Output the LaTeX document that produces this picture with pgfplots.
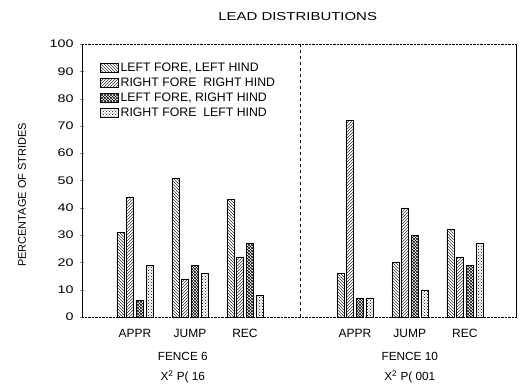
\documentclass[border=0pt]{standalone}
\usepackage{fontspec}
\setmainfont{Liberation Sans}
\newfontfamily\wide{Liberation Sans}[FakeStretch=1.3]
\usepackage{pgfplots}
\pgfplotsset{compat=1.18}
\usetikzlibrary{patterns}
\begin{document}
\begin{tikzpicture}
\begin{axis}[
  scale only axis, width=435pt, height=273pt,
  xmin=0.036, xmax=7.95, ymin=0, ymax=100,
  axis line style={draw=none},
  ytick={0,10,...,100},
  ytick pos=left,
  tick align=center, major tick length=4pt,
  xtick={1,2,3,5,6,7},
  xticklabels={APPR,JUMP,REC,APPR,JUMP,REC},
  x tick style={draw=none},
  xticklabel style={yshift=-5pt, font=\fontsize{12}{14}\selectfont},
  yticklabel style={xshift=-3pt, font=\wide\fontsize{11}{13}\selectfont},
  /pgf/number format/assume math mode=true,
  clip=false,
  ybar, bar width=0.127,
  legend image code/.code={\draw[#1,bar shift=0pt] (0pt,-4.5pt) rectangle (18pt,4.5pt);},
  legend cell align=left,
  legend style={at={(axis cs:0.364,93.8)}, anchor=north west, draw=none, fill=none,
    font=\fontsize{12.3}{14}\selectfont, inner sep=0pt, row sep=0.8pt,
    nodes={inner sep=2pt}},
]
\addplot[draw=black, pattern=north west lines, bar shift=-0.265] coordinates {(1,31) (2,51) (3,43) (5,16) (6,20) (7,32)};
\addlegendentry{LEFT FORE, LEFT HIND}
\addplot[draw=black, pattern=north east lines, bar shift=-0.088] coordinates {(1,44) (2,14) (3,22) (5,72) (6,40) (7,22)};
\addlegendentry{RIGHT FORE\ \ RIGHT HIND}
\addplot[draw=black, pattern=crosshatch, bar shift=0.088] coordinates {(1,6) (2,19) (3,27) (5,7) (6,30) (7,19)};
\addlegendentry{LEFT FORE, RIGHT HIND}
\addplot[draw=black, pattern=crosshatch dots, bar shift=0.265] coordinates {(1,19) (2,16) (3,8) (5,7) (6,10) (7,27)};
\addlegendentry{RIGHT FORE\ \ LEFT HIND}
% frame
\draw[line width=0.8pt] (rel axis cs:0,0) -- (rel axis cs:0,1);
\draw[densely dotted] (rel axis cs:0,1) -- (rel axis cs:1,1);
\draw[densely dotted] (rel axis cs:0,0) -- (rel axis cs:1,0);
\draw[line width=1pt] (rel axis cs:1,0) -- (rel axis cs:1,1);
\draw[dashed] (axis cs:4,0) -- (axis cs:4,100);
% texts
\node[font=\wide\fontsize{11.5}{13}\selectfont] at (axis cs:3.96,110) {LEAD DISTRIBUTIONS};
\node[rotate=90, font=\fontsize{11}{13}\selectfont] at (axis cs:-1.055,44.7) {PERCENTAGE OF STRIDES};
\node[font=\fontsize{11.8}{13}\selectfont] at (axis cs:1.87,-14.3) {FENCE 6};
\node[font=\fontsize{11.8}{13}\selectfont] at (axis cs:1.87,-21.8) {X\textsuperscript{2} P( 16};
\node[font=\fontsize{11.8}{13}\selectfont] at (axis cs:6.0,-14.3) {FENCE 10};
\node[font=\fontsize{11.8}{13}\selectfont] at (axis cs:6.0,-21.8) {X\textsuperscript{2} P( 001};
\end{axis}
\path (current axis.south west) ++(-82pt,-67pt) rectangle ++(525pt,384pt);
\end{tikzpicture}
\end{document}
